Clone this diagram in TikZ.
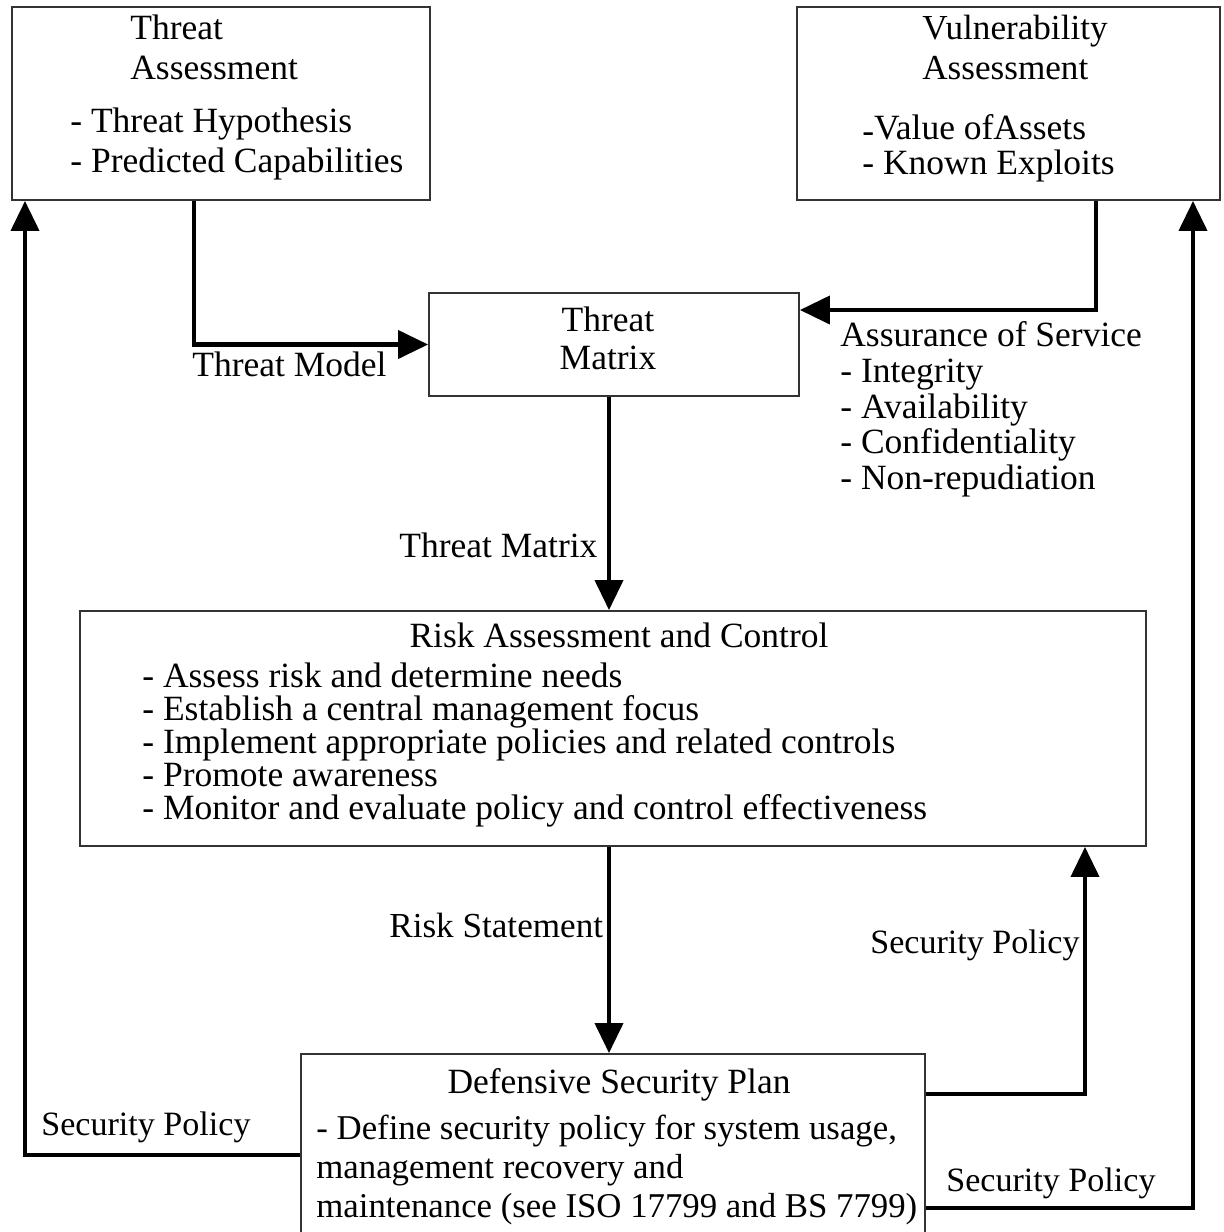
\documentclass[tikz,border=0pt]{standalone}
\usepackage{fontspec}
\setmainfont{Liberation Serif}
\usepackage{tikz}
\usetikzlibrary{positioning, shapes, arrows.meta, calc}

\newcommand{\txtsize}[1]{\fontsize{20.2}{#1}\selectfont}

\begin{document}
\begin{tikzpicture}[x=0.02cm, y=-0.02cm,
    box/.style={draw=black!80, line width=1.1pt, inner sep=0pt},
    conn/.style={-{Triangle[length=0.6cm, width=0.56cm]}, line width=2.3pt},
    txt/.style={inner sep=0pt, anchor=north west, align=left, font=\txtsize{22.7pt}},
    policy/.style={txt, font=\fontsize{19.4}{22pt}\selectfont}]
    \useasboundingbox (0,0) rectangle (1224,1232);

    % Boxes
    \node (ta) at (221, 103.5) [box, minimum width=8.36cm, minimum height=3.86cm] {};
    \node (va) at (1008.5, 103.5) [box, minimum width=8.46cm, minimum height=3.86cm] {};
    \node (tm) at (614, 344.5) [box, minimum width=7.4cm, minimum height=2.06cm] {};
    \node (rac) at (613, 728.5) [box, minimum width=21.32cm, minimum height=4.7cm] {};
    \node (dsp) at (613, 1145) [box, minimum width=12.48cm, minimum height=3.64cm] {};

    % Box texts
    \node (tatitle) at (130, 15) [txt] {Threat\\Assessment};
    \node (talist) at (70, 108) [txt] {- Threat Hypothesis\\- Predicted Capabilities};
    \node (vatitle) at (922, 15) [txt, font=\fontsize{20}{22.7pt}\selectfont] {Vulnerability\\Assessment};
    \node (valist) at (862, 114) [txt, font=\txtsize{19.8pt}] {\smash{\raisebox{-0.2ex}{-}}Value ofAssets\\- Known Exploits};
    \node (tmtext) at (608, 307) [txt, anchor=north, align=center, font=\txtsize{21.5pt}] {Threat\\Matrix};
    \node (ractitle) at (619, 623) [txt, anchor=north] {Risk Assessment and Control};
    \node (raclist) at (142, 663) [txt, font=\txtsize{18.7pt}] {- Assess risk and determine needs\\
        - Establish a central management focus\\
        - Implement appropriate policies and related controls\\
        - Promote awareness\\
        - Monitor and evaluate policy and control effectiveness};
    \node (dsptitle) at (619, 1068) [txt, anchor=north] {Defensive Security Plan};
    \node (dsplist) at (316, 1115) [txt, font=\fontsize{19.8}{22.1pt}\selectfont] {- Define security policy for system usage,\\
        management recovery and\\
        maintenance (see ISO 17799 and BS 7799)};

    % Connector labels
    \node (model) at (192, 352) [txt] {Threat Model};
    \node (aos) at (840, 321) [txt, font=\txtsize{20.4pt}] {Assurance of Service\\- Integrity\\- Availability\\- Confidentiality\\- Non-repudiation};
    \node (tmlabel) at (399, 533) [txt] {Threat Matrix};
    \node (rslabel) at (389, 913) [txt, font=\fontsize{20}{22pt}\selectfont] {Risk Statement};
    \node (splabela) at (870, 929) [policy] {Security Policy};
    \node (splabelb) at (41, 1111) [policy] {Security Policy};
    \node (splabelc) at (946, 1167) [policy] {Security Policy};

    % Connectors
    \draw[conn] ($(ta.south)+(-27,0)$) |- (tm.west);
    \draw[conn] ($(va.south)+(87.5,0)$) |- ($(tm.east)+(0,-34.5)$);
    \draw[conn] ($(tm.south)+(-5,0)$) coordinate (tmout) -- (tmout |- rac.north);
    \draw[conn] ($(rac.south)+(-4,0)$) coordinate (racout) -- (racout |- dsp.north);
    \draw[conn] ($(dsp.east)+(0,-51)$) -| ($(rac.south)+(472,0)$);
    \draw[conn] ($(dsp.west)+(0,10)$) -| ($(ta.south)+(-196,0)$);
    \draw[conn] ($(dsp.east)+(0,63)$) -| ($(va.south)+(184.5,0)$);
\end{tikzpicture}
\end{document}
